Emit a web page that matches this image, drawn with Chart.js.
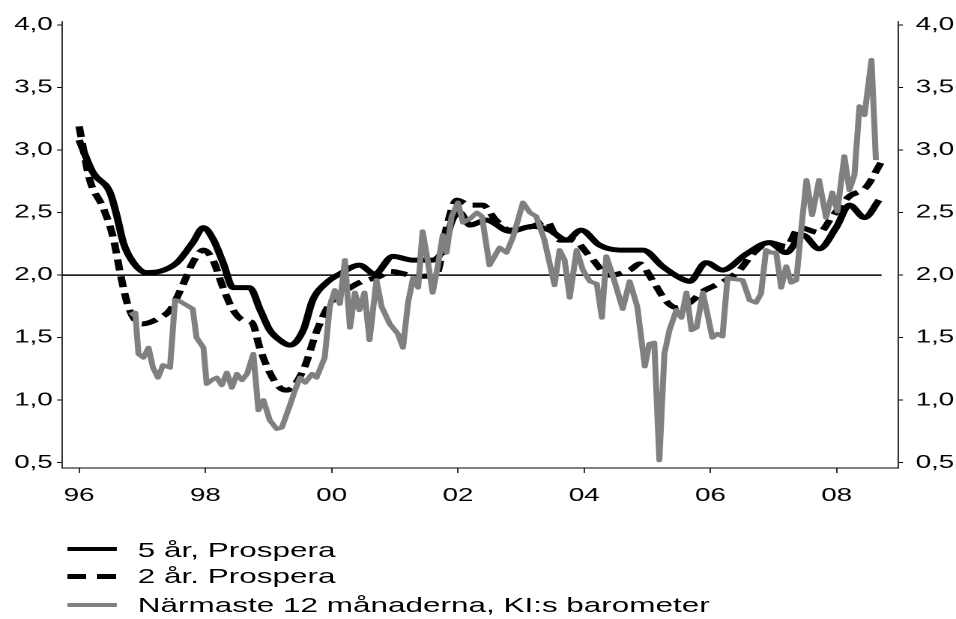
<!DOCTYPE html>
<html>
<head>
<meta charset="utf-8">
<script src="https://cdn.jsdelivr.net/npm/chart.js@4"></script>
<style>
  html, body { margin: 0; padding: 0; background: #fff; }
  /* the source picture is stretched sideways, so draw narrow and widen */
  #wrap {
    position: relative;
    width: 638px;
    height: 619px;
    transform: scaleX(1.4984);
    transform-origin: 0 0;
    font-family: "Liberation Sans", Arial, sans-serif;
  }
  #chart { position: absolute; left: 0; top: 0; }
  .sample { position: absolute; left: 45.4px; width: 33px; }
  .label { position: absolute; left: 92px; font-size: 21px; line-height: 21px; color: #000; white-space: nowrap; }
</style>
</head>
<body>
<div id="wrap">
  <canvas id="chart" width="638" height="525"></canvas>
  <div id="legend"></div>
</div>
<script>
// ── data (years as decimals, values in percent) ─────────────
const seriesLabels = ['5 år, Prospera', '2 år. Prospera', 'Närmaste 12 månaderna, KI:s barometer'];

const fiveYrX = [1996.00, 1996.22, 1996.49, 1996.60, 1996.70, 1996.86, 1997.07, 1997.28, 1997.55, 1997.80,
  1997.97, 1998.13, 1998.28, 1998.44, 1998.70, 1998.87, 1999.02, 1999.18, 1999.34, 1999.55,
  1999.70, 1999.92, 2000.13, 2000.44, 2000.68, 2000.97, 2001.28, 2001.60, 2001.76, 2001.92,
  2002.03, 2002.19, 2002.45, 2002.82, 2003.18, 2003.45, 2003.72, 2003.95, 2004.24, 2004.56,
  2004.93, 2005.24, 2005.51, 2005.67, 2005.93, 2006.19, 2006.57, 2006.93, 2007.20, 2007.46,
  2007.72, 2007.99, 2008.20, 2008.44, 2008.67];
const fiveYr = [3.08, 2.82, 2.66, 2.47, 2.26, 2.10, 2.02, 2.03, 2.10, 2.26,
  2.38, 2.28, 2.10, 1.90, 1.90, 1.72, 1.56, 1.48, 1.44, 1.56,
  1.80, 1.94, 2.01, 2.08, 2.01, 2.15, 2.12, 2.12, 2.20, 2.45,
  2.50, 2.40, 2.44, 2.35, 2.39, 2.36, 2.28, 2.36, 2.24, 2.20,
  2.20, 2.07, 1.98, 1.95, 2.10, 2.04, 2.17, 2.26, 2.18, 2.32,
  2.21, 2.38, 2.56, 2.46, 2.60];

const twoYrX = [1996.00, 1996.17, 1996.38, 1996.54, 1996.65, 1996.76, 1996.86, 1997.00, 1997.28, 1997.44,
  1997.65, 1997.80, 1997.97, 1998.12, 1998.28, 1998.44, 1998.60, 1998.74, 1998.86, 1999.02,
  1999.18, 1999.29, 1999.55, 1999.77, 1999.97, 2000.24, 2000.44, 2000.76, 2000.92, 2001.24,
  2001.39, 2001.66, 2001.82, 2001.98, 2002.19, 2002.39, 2002.60, 2002.82, 2003.18, 2003.40,
  2003.61, 2003.82, 2004.09, 2004.40, 2004.72, 2004.88, 2005.08, 2005.30, 2005.46, 2005.67,
  2005.88, 2006.04, 2006.25, 2006.46, 2006.67, 2006.93, 2007.20, 2007.41, 2007.72, 2007.93,
  2008.20, 2008.46, 2008.70];
const twoYr = [3.19, 2.76, 2.54, 2.30, 2.02, 1.78, 1.66, 1.61, 1.66, 1.72,
  1.93, 2.10, 2.20, 2.12, 1.90, 1.72, 1.64, 1.62, 1.42, 1.22,
  1.10, 1.08, 1.24, 1.56, 1.77, 1.88, 1.94, 1.99, 2.03, 2.00,
  1.99, 2.01, 2.38, 2.60, 2.56, 2.56, 2.44, 2.36, 2.39, 2.43,
  2.28, 2.28, 2.15, 2.00, 2.04, 2.09, 1.96, 1.79, 1.74, 1.78,
  1.87, 1.91, 1.96, 2.04, 2.17, 2.26, 2.23, 2.38, 2.34, 2.47,
  2.63, 2.70, 2.90];

const kiX = [1996.81, 1996.89, 1996.94, 1997.02, 1997.10, 1997.17, 1997.25, 1997.33, 1997.44, 1997.52,
  1997.60, 1997.70, 1997.80, 1997.86, 1997.97, 1998.02, 1998.10, 1998.18, 1998.26, 1998.34,
  1998.42, 1998.50, 1998.58, 1998.66, 1998.76, 1998.84, 1998.92, 1999.02, 1999.13, 1999.21,
  1999.34, 1999.42, 1999.50, 1999.58, 1999.69, 1999.76, 1999.89, 1999.97, 2000.05, 2000.13,
  2000.21, 2000.29, 2000.37, 2000.44, 2000.52, 2000.60, 2000.71, 2000.79, 2000.92, 2001.05,
  2001.13, 2001.21, 2001.29, 2001.37, 2001.44, 2001.52, 2001.60, 2001.68, 2001.76, 2001.82,
  2001.90, 2002.00, 2002.08, 2002.19, 2002.30, 2002.38, 2002.50, 2002.66, 2002.77, 2002.87,
  2003.03, 2003.14, 2003.24, 2003.37, 2003.53, 2003.61, 2003.69, 2003.77, 2003.88, 2003.98,
  2004.09, 2004.20, 2004.28, 2004.35, 2004.45, 2004.61, 2004.72, 2004.84, 2004.96, 2005.03,
  2005.11, 2005.19, 2005.27, 2005.35, 2005.46, 2005.54, 2005.62, 2005.70, 2005.78, 2005.88,
  2006.03, 2006.11, 2006.19, 2006.27, 2006.35, 2006.51, 2006.62, 2006.72, 2006.80, 2006.88,
  2006.96, 2007.04, 2007.12, 2007.20, 2007.28, 2007.36, 2007.44, 2007.52, 2007.61, 2007.72,
  2007.83, 2007.93, 2008.01, 2008.12, 2008.20, 2008.28, 2008.36, 2008.44, 2008.55, 2008.62];
const ki = [1.68, 1.70, 1.37, 1.34, 1.42, 1.26, 1.18, 1.28, 1.26, 1.80,
  1.79, 1.76, 1.73, 1.50, 1.42, 1.13, 1.16, 1.18, 1.12, 1.22,
  1.10, 1.21, 1.16, 1.21, 1.37, 0.92, 1.00, 0.84, 0.77, 0.78,
  0.96, 1.08, 1.18, 1.14, 1.21, 1.18, 1.34, 1.75, 1.88, 1.77,
  2.12, 1.58, 1.86, 1.72, 1.86, 1.48, 1.96, 1.75, 1.61, 1.53,
  1.42, 1.78, 1.98, 1.90, 2.35, 2.12, 1.86, 2.07, 2.32, 2.18,
  2.47, 2.58, 2.42, 2.45, 2.50, 2.47, 2.08, 2.22, 2.18, 2.30,
  2.58, 2.50, 2.47, 2.28, 1.92, 2.20, 2.12, 1.82, 2.20, 2.04,
  1.95, 1.93, 1.66, 2.15, 2.00, 1.73, 1.95, 1.75, 1.27, 1.45,
  1.46, 0.52, 1.37, 1.56, 1.72, 1.66, 1.86, 1.56, 1.58, 1.86,
  1.50, 1.53, 1.51, 1.98, 1.97, 1.96, 1.80, 1.78, 1.85, 2.20,
  2.18, 2.18, 1.90, 2.07, 1.94, 1.96, 2.38, 2.76, 2.48, 2.76,
  2.46, 2.66, 2.51, 2.95, 2.68, 2.80, 3.35, 3.28, 3.72, 2.92];

const refLevel = 2.0;
const refX = [1995.73, 2008.71];

const xTickYears = [1996, 1998, 2000, 2002, 2004, 2006, 2008];
const xTickLabels = ['96', '98', '00', '02', '04', '06', '08'];
const yTicks = [0.5, 1.0, 1.5, 2.0, 2.5, 3.0, 3.5, 4.0];

// ── helpers ─────────────────────────────────────────────
const pts = (xs, ys) => xs.map((x, i) => ({ x, y: ys[i] }));
const fmt = v => v.toFixed(1).replace('.', ',');
const tickFont = { family: '"Liberation Sans", Arial, sans-serif', size: 18.5 };

const yAxis = (position, padding) => ({
  type: 'linear',
  position,
  min: 0.4576,
  max: 4.0296,
  afterBuildTicks: s => { s.ticks = yTicks.map(v => ({ value: v })); },
  afterFit: s => { s.width = position === 'left' ? 41.4 : 38.7; },
  ticks: { color: '#000', font: tickFont, padding, callback: v => fmt(v) },
  grid: { drawOnChartArea: false, drawTicks: true, tickLength: 3.3, color: '#000', lineWidth: 1 },
  border: { display: true, color: '#000', width: 0.8 }
});

// ── chart ───────────────────────────────────────────────
new Chart(document.getElementById('chart'), {
  type: 'line',
  data: {
    datasets: [
      { label: seriesLabels[2], data: pts(kiX, ki), borderColor: '#808080', borderWidth: 4,
        tension: 0, order: 0 },
      { label: seriesLabels[0], data: pts(fiveYrX, fiveYr), borderColor: '#000', borderWidth: 5,
        cubicInterpolationMode: 'monotone', order: 1 },
      { label: seriesLabels[1], data: pts(twoYrX, twoYr), borderColor: '#000', borderWidth: 5,
        borderDash: [11, 6], cubicInterpolationMode: 'monotone', order: 2 },
      { label: 'ref', data: refX.map(x => ({ x, y: refLevel })), borderColor: '#000', borderWidth: 1.5,
        order: 3 }
    ]
  },
  options: {
    responsive: false,
    animation: false,
    devicePixelRatio: 2,
    layout: { padding: { top: 21.3, left: 0, right: 0, bottom: 0 } },
    elements: { point: { radius: 0 }, line: { fill: false, borderJoinStyle: 'round' } },
    plugins: { legend: { display: false }, tooltip: { enabled: false } },
    scales: {
      x: {
        type: 'linear',
        min: 1995.73,
        max: 2008.97,
        afterBuildTicks: s => { s.ticks = xTickYears.map(v => ({ value: v })); },
        afterFit: s => { s.height = 57; },
        ticks: { color: '#000', font: tickFont, padding: 12, maxRotation: 0,
          callback: (v, i) => xTickLabels[i] },
        grid: { drawOnChartArea: false, drawTicks: true, tickLength: 5, color: '#000', lineWidth: 0.8 },
        border: { display: true, color: '#000', width: 1 }
      },
      y: yAxis('left', 2.9),
      y2: yAxis('right', 8.5)
    }
  }
});

// ── legend ──────────────────────────────────────────────
const legendRows = [
  { lineY: 548.8, textY: 549.5, style: 'height:4.5px;background:#000' },
  { lineY: 576.5, textY: 575.5, style: 'height:4.5px;background:repeating-linear-gradient(to right,#000 0 12.6px,transparent 12.6px 20px)' },
  { lineY: 605.0, textY: 604.5, style: 'height:4.5px;background:#808080' }
];
document.getElementById('legend').innerHTML = legendRows.map((r, i) =>
  `<div class="sample" style="top:${r.lineY - 2.25}px;${r.style}"></div>` +
  `<div class="label" style="top:${r.textY - 10.3}px">${seriesLabels[i]}</div>`
).join('');
</script>
</body>
</html>
